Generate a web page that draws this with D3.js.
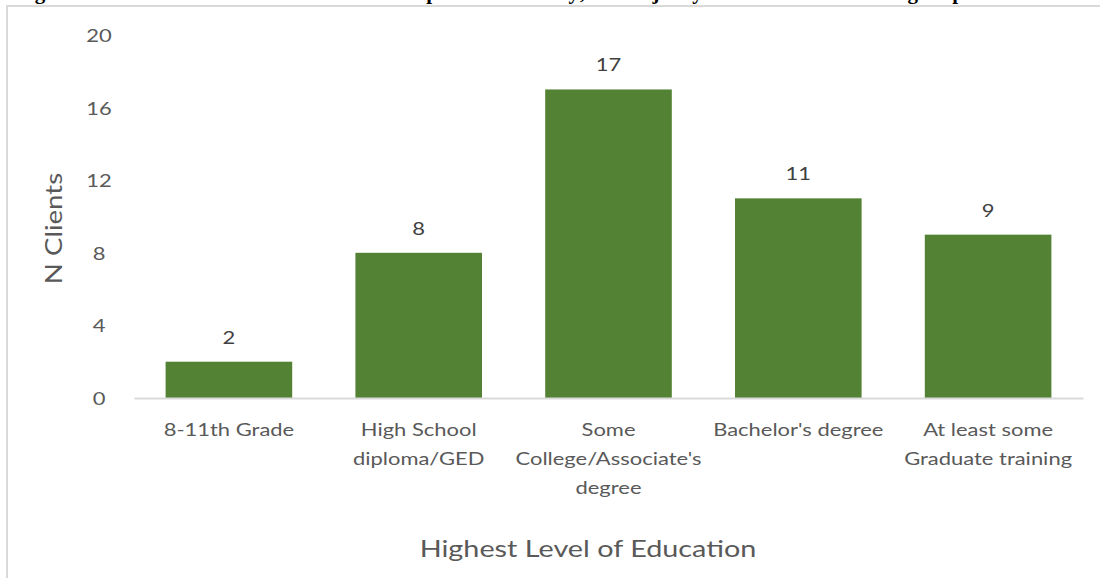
<!DOCTYPE html>
<html>
<head>
<meta charset="utf-8">
<script src="https://cdn.jsdelivr.net/npm/d3@7"></script>
<style>
  html, body { margin: 0; padding: 0; background: #ffffff; }
  svg { display: block; }
</style>
</head>
<body>
<svg id="chart" width="1100" height="578"></svg>
<script>
// ---- data ----
const categories = [
  "8-11th Grade",
  "High School diploma/GED",
  "Some College/Associate's degree",
  "Bachelor's degree",
  "At least some Graduate training"
];
const categoryLines = [
  ["8-11th Grade"],
  ["High School", "diploma/GED"],
  ["Some", "College/Associate's", "degree"],
  ["Bachelor's degree"],
  ["At least some", "Graduate training"]
];
const values = [2, 8, 17, 11, 9];
const yTicks = [0, 4, 8, 12, 16, 20];
const yTitle = "N Clients";
const xTitle = "Highest Level of Education";
const figTitle = "Figure 3. Educational level of clients who completed the survey; the majority had at least some college experience";

// ---- layout ----
const svg = d3.select("#chart");
const W = 1100, H = 578;
const plot = { left: 134, right: 1083, top: 35, bottom: 398 };
const font = "Lato, 'Open Sans', sans-serif";
const textColor = "#595959";
const sxSmall = 1.22, sxLarge = 1.2;

// clipped title at top (only descenders visible, as in the reference)
svg.append("text")
  .attr("x", 16).attr("y", -1)
  .attr("font-family", "'Liberation Serif', 'Times New Roman', serif")
  .attr("font-weight", "bold")
  .attr("font-size", 21)
  .attr("fill", "#000")
  .text(figTitle);

// chart frame border
svg.append("path")
  .attr("d", `M7,${H + 5} L7,6 L${W + 5},6`)
  .attr("fill", "none")
  .attr("stroke", "#d9d9d9")
  .attr("stroke-width", 2);

const x = d3.scaleBand()
  .domain(categories)
  .range([plot.left, plot.right])
  .paddingInner(0.333)
  .paddingOuter(0.1665);

const y = d3.scaleLinear()
  .domain([0, 20])
  .range([plot.bottom, plot.top]);

// helper: horizontally stretched text centred at (cx, cy)
function stretched(g, cx, cy, sx) {
  return g.append("g").attr("transform", `translate(${cx},${cy}) scale(${sx},1)`);
}

// y axis labels
const yAxis = d3.axisLeft(y).tickValues(yTicks).tickSize(0).tickPadding(0);
const yg = svg.append("g").attr("transform", `translate(${plot.left - 35},0)`).call(yAxis);
yg.select(".domain").remove();
yg.selectAll(".tick text")
  .attr("font-family", font).attr("font-size", 18).attr("fill", textColor)
  .attr("text-anchor", "middle").attr("x", 0).attr("dy", "0.36em")
  .attr("transform", `scale(${sxSmall},1)`);

// bars
svg.append("g").selectAll("rect")
  .data(values)
  .join("rect")
  .attr("x", (d, i) => x(categories[i]))
  .attr("y", d => y(d))
  .attr("width", x.bandwidth())
  .attr("height", d => y(0) - y(d))
  .attr("fill", "#548235");

// baseline (x axis)
const xAxis = d3.axisBottom(x).tickSize(0).tickFormat("");
const xg = svg.append("g").attr("transform", `translate(0,${y(0)})`).call(xAxis);
xg.select(".domain").attr("stroke", "#d9d9d9").attr("stroke-width", 2);

// value labels
const vl = svg.append("g");
values.forEach((d, i) => {
  stretched(vl, x(categories[i]) + x.bandwidth() / 2, y(d) - 18, sxSmall)
    .append("text")
    .attr("text-anchor", "middle")
    .attr("font-family", font).attr("font-size", 18).attr("fill", "#404040")
    .text(d);
});

// category labels
const cl = svg.append("g");
categories.forEach((c, i) => {
  const t = stretched(cl, x(c) + x.bandwidth() / 2, 436, sxSmall)
    .append("text")
    .attr("text-anchor", "middle")
    .attr("font-family", font).attr("font-size", 18).attr("fill", textColor);
  categoryLines[i].forEach((line, j) => {
    t.append("tspan").attr("x", 0).attr("y", j * 29).text(line);
  });
});

// axis titles
svg.append("g")
  .attr("transform", `translate(62,${(plot.top + plot.bottom) / 2 + 12}) rotate(-90) scale(1.15,1)`)
  .append("text")
  .attr("text-anchor", "middle")
  .attr("font-family", font).attr("font-size", 24).attr("fill", textColor)
  .text(yTitle);

stretched(svg, 588, 557, sxLarge)
  .append("text")
  .attr("text-anchor", "middle")
  .attr("font-family", font).attr("font-size", 24).attr("fill", textColor)
  .text(xTitle);
</script>
</body>
</html>
